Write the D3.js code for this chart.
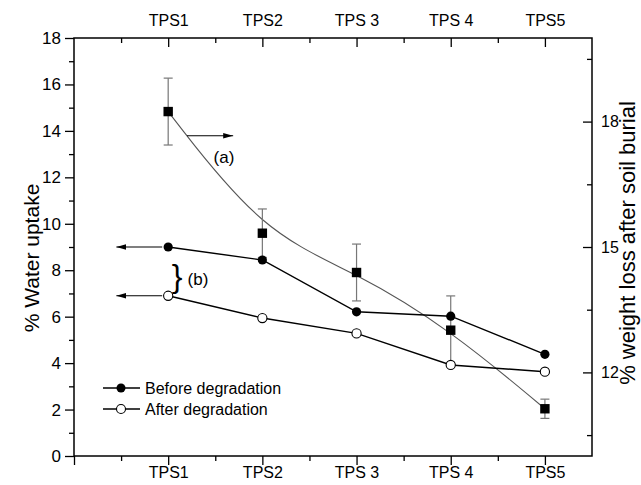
<!DOCTYPE html>
<html>
<head>
<meta charset="utf-8">
<script src="https://cdn.jsdelivr.net/npm/d3@7"></script>
<style>
  body { margin: 0; background: #fff; }
  svg { display: block; font-family: "Liberation Sans", Arial, sans-serif; }
</style>
</head>
<body>
<div id="chart"></div>
<script>
// Chart data
const tickLabels = ["TPS1", "TPS2", "TPS 3", "TPS 4", "TPS5"];
const positions = [1, 2, 3, 4, 5];
const beforeDeg = [9.0, 8.44, 6.21, 6.02, 4.38];
const afterDeg = [6.9, 5.94, 5.28, 3.92, 3.63];
const weightLoss = [18.24, 15.33, 14.39, 13.01, 11.13];
const weightErr = [0.8, 0.58, 0.68, 0.82, 0.23];
const leftMajor = [0, 2, 4, 6, 8, 10, 12, 14, 16, 18];
const leftMinor = [1, 3, 5, 7, 9, 11, 13, 15, 17];
const rightMajor = [12, 15, 18];
const rightMinor = [10.5, 13.5, 16.5, 19.5];
const xMinor = [0.5, 1.5, 2.5, 3.5, 4.5];

const WIDTH = 641, HEIGHT = 485;
const LEFT = 74, RIGHT = 592, TOP = 38, BOTTOM = 456;
const FONT = 16;

var svg = d3.select("#chart").append("svg")
  .attr("width", WIDTH).attr("height", HEIGHT);

var x = d3.scaleLinear().domain([0, 5.5]).range([LEFT, RIGHT]);
var y = d3.scaleLinear().domain([0, 18]).range([BOTTOM, TOP]);
var yR = d3.scaleLinear().domain([10, 20]).range([BOTTOM, TOP]);

// arrow head marker
svg.append("defs").append("marker")
  .attr("id", "arrow")
  .attr("viewBox", "0 0 10 10")
  .attr("refX", 10).attr("refY", 5)
  .attr("markerWidth", 10).attr("markerHeight", 10)
  .attr("markerUnits", "userSpaceOnUse")
  .attr("orient", "auto")
  .append("path").attr("d", "M0,2.2 L10,5 L0,7.8 Z").attr("fill", "#000");

// helper to style an axis group
function styleAxis(g) {
  g.select(".domain").remove();
  g.selectAll("line").attr("stroke", "#000").attr("stroke-width", 1.3);
  g.selectAll("text").attr("font-size", FONT).attr("fill", "#000")
    .attr("font-family", "Liberation Sans, Arial, sans-serif");
}

// left axis
svg.append("g").attr("transform", `translate(${LEFT},0)`)
  .call(d3.axisLeft(y).tickValues(leftMajor).tickSize(9).tickPadding(4))
  .call(styleAxis)
  .selectAll("text").attr("font-size", 17);
svg.append("g").attr("transform", `translate(${LEFT},0)`)
  .call(d3.axisLeft(y).tickValues(leftMinor).tickSize(5).tickFormat(""))
  .call(styleAxis);

// right axis (ticks point inward)
svg.append("g").attr("transform", `translate(${RIGHT},0)`)
  .call(d3.axisRight(yR).tickValues(rightMajor).tickSize(-9).tickPadding(9))
  .call(styleAxis);
svg.append("g").attr("transform", `translate(${RIGHT},0)`)
  .call(d3.axisRight(yR).tickValues(rightMinor).tickSize(-5).tickFormat(""))
  .call(styleAxis);

// bottom axis
svg.append("g").attr("transform", `translate(0,${BOTTOM})`)
  .call(d3.axisBottom(x).tickValues([0].concat(positions)).tickSize(9).tickPadding(2)
    .tickFormat((d) => (d === 0 ? "" : tickLabels[d - 1])))
  .call(styleAxis);
svg.append("g").attr("transform", `translate(0,${BOTTOM})`)
  .call(d3.axisBottom(x).tickValues(xMinor).tickSize(5).tickFormat(""))
  .call(styleAxis);

// top axis (ticks point inward)
svg.append("g").attr("transform", `translate(0,${TOP})`)
  .call(d3.axisTop(x).tickValues(positions).tickSize(-9).tickPadding(12)
    .tickFormat((d) => tickLabels[d - 1]))
  .call(styleAxis);
svg.append("g").attr("transform", `translate(0,${TOP})`)
  .call(d3.axisTop(x).tickValues(xMinor).tickSize(-5).tickFormat(""))
  .call(styleAxis);

// frame
svg.append("rect")
  .attr("x", LEFT).attr("y", TOP)
  .attr("width", RIGHT - LEFT).attr("height", BOTTOM - TOP)
  .attr("fill", "none").attr("stroke", "#000").attr("stroke-width", 1.5);

// axis titles
svg.append("text")
  .attr("transform", `translate(31,${(TOP + BOTTOM) / 2 + 11}) rotate(-90)`)
  .attr("text-anchor", "middle").attr("dominant-baseline", "central")
  .attr("font-size", 21).text("% Water uptake");
svg.append("text")
  .attr("transform", `translate(627,243) rotate(-90)`)
  .attr("text-anchor", "middle").attr("dominant-baseline", "central")
  .attr("font-size", 22).text("% weight loss after soil burial");

// weight loss series: smooth gray line + error bars + squares
var wlData = positions.map((p, i) => ({ p: p, v: weightLoss[i], e: weightErr[i] }));
svg.append("path")
  .datum(wlData)
  .attr("fill", "none").attr("stroke", "#555").attr("stroke-width", 1.1)
  .attr("d", d3.line().x((d) => x(d.p)).y((d) => yR(d.v)).curve(d3.curveBasis));

var eb = svg.append("g").attr("stroke", "#777").attr("stroke-width", 1.2);
wlData.forEach((d) => {
  eb.append("line").attr("x1", x(d.p)).attr("x2", x(d.p))
    .attr("y1", yR(d.v - d.e)).attr("y2", yR(d.v + d.e));
  [d.v - d.e, d.v + d.e].forEach((v) => {
    eb.append("line").attr("x1", x(d.p) - 4.5).attr("x2", x(d.p) + 4.5)
      .attr("y1", yR(v)).attr("y2", yR(v));
  });
});

// water uptake series
function drawSeries(values, filled) {
  var data = positions.map((p, i) => ({ p: p, v: values[i] }));
  svg.append("path")
    .datum(data)
    .attr("fill", "none").attr("stroke", "#000").attr("stroke-width", 1.4)
    .attr("d", d3.line().x((d) => x(d.p)).y((d) => y(d.v)));
  svg.selectAll(null).data(data).enter().append("circle")
    .attr("cx", (d) => x(d.p)).attr("cy", (d) => y(d.v)).attr("r", 4.6)
    .attr("fill", filled ? "#000" : "#fff")
    .attr("stroke", "#000").attr("stroke-width", filled ? 0 : 1.1);
}
drawSeries(beforeDeg, true);
drawSeries(afterDeg, false);

svg.selectAll(null).data(wlData).enter().append("rect")
  .attr("x", (d) => x(d.p) - 4.7).attr("y", (d) => yR(d.v) - 4.7)
  .attr("width", 9.4).attr("height", 9.4).attr("fill", "#000");

// annotation arrows
function arrow(x1, y1, x2, y2) {
  svg.append("line")
    .attr("x1", x1).attr("y1", y1).attr("x2", x2).attr("y2", y2)
    .attr("stroke", "#000").attr("stroke-width", 1.1)
    .attr("marker-end", "url(#arrow)");
}
arrow(x(1) - 6, y(beforeDeg[0]), x(0.45), y(beforeDeg[0]));
arrow(x(1) - 6, y(afterDeg[0]), x(0.45), y(afterDeg[0]));
arrow(x(1.2), yR(17.66), x(1.69), yR(17.66));

svg.append("text").attr("x", 224).attr("y", 157)
  .attr("text-anchor", "middle").attr("dominant-baseline", "central")
  .attr("font-size", 17).text("(a)");
svg.append("text").attr("x", 177).attr("y", 276)
  .attr("text-anchor", "middle").attr("dominant-baseline", "central")
  .attr("font-size", 32).text("}");
svg.append("text").attr("x", 198).attr("y", 279)
  .attr("text-anchor", "middle").attr("dominant-baseline", "central")
  .attr("font-size", 17).text("(b)");

// legend
var legend = svg.append("g");
[["Before degradation", true, 388], ["After degradation", false, 409]].forEach((d) => {
  legend.append("line").attr("x1", 103).attr("x2", 140)
    .attr("y1", d[2]).attr("y2", d[2]).attr("stroke", "#000").attr("stroke-width", 1.3);
  legend.append("circle").attr("cx", 121).attr("cy", d[2]).attr("r", 4.5)
    .attr("fill", d[1] ? "#000" : "#fff").attr("stroke", "#000")
    .attr("stroke-width", d[1] ? 0 : 1.1);
  legend.append("text").attr("x", 145).attr("y", d[2])
    .attr("dominant-baseline", "central").attr("font-size", FONT).text(d[0]);
});
</script>
</body>
</html>
